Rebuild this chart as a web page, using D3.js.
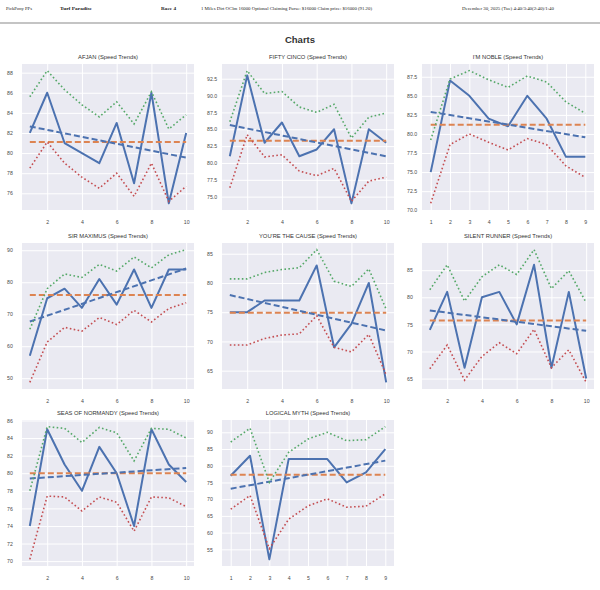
<!DOCTYPE html>
<html>
<head>
<meta charset="utf-8">
<script src="https://d3js.org/d3.v7.min.js"></script>
<style>
body { margin: 0; background: #fff; }
svg { display: block; }
.grid line { stroke: #fff; stroke-width: 1; }
.grid text { fill: #4a4a4a; font-family: "Liberation Sans", Arial, sans-serif; font-size: 5.2px; }
.title { fill: #333; font-family: "Liberation Sans", Arial, sans-serif; font-size: 5.8px; text-anchor: middle; }
.hdr { font-family: "Liberation Serif", "Times New Roman", serif; font-size: 4.8px; fill: #222; }
</style>
</head>
<body>
<svg width="600" height="590"></svg>
<script>
// header strip
const headerText = ["PickPony PPs", "Turf Paradise", "Race 4",
  "1 Miles Dirt OClm 16000 Optional Claiming Purse: $16000 Claim price: $16000 (91.20)",
  "December 30, 2025 (Tue) 4:40/3:40(2:40)/1:40"];
const headerBold = [false, true, true, false, false];

// horses, one chart each
const horses = ["AFJAN", "FIFTY CINCO", "I'M NOBLE", "SIR MAXIMUS", "YOU'RE THE CAUSE",
  "SILENT RUNNER", "SEAS OF NORMANDY", "LOGICAL MYTH"];

// speed figures per race (solid blue)
const speeds = [
  [82, 86, 81, 80, 79, 83, 77, 86, 75, 82],
  [81, 93, 83, 86, 81, 82, 85, 74, 85, 83],
  [75, 87, 85, 82, 81, 85, 82, 77, 77],
  [57, 75, 78, 72, 81, 73, 84, 72, 84, 84],
  [75, 75, 77, 77, 77, 83, 69, 73, 80, 63],
  [74, 81, 67, 80, 81, 75, 86, 67, 81, 65],
  [74, 85, 81, 78, 83, 80, 74, 85, 81, 79],
  [77, 83, 52, 82, 82, 82, 75, 78, 85]
];

// upper band (green dotted)
const upper = [
  [85.6, 88.2, 86.3, 84.8, 83.6, 85.1, 82.9, 86.1, 82.4, 83.8],
  [86.1, 93.7, 90.3, 90.6, 88.3, 87.5, 88.7, 83.7, 86.8, 87.4],
  [79.2, 87.2, 88.3, 87.1, 86.1, 87.6, 86.8, 84.2, 82.7],
  [65.3, 78.0, 82.6, 81.5, 85.6, 83.5, 87.9, 84.5, 88.6, 90.2],
  [80.7, 80.7, 81.8, 82.3, 82.6, 85.7, 80.3, 79.4, 82.4, 75.5],
  [81.4, 86.0, 79.3, 83.8, 86.0, 84.2, 88.8, 81.6, 84.9, 79.0],
  [78.0, 85.3, 85.1, 83.5, 85.2, 84.6, 81.4, 85.1, 85.0, 84.0],
  [87.1, 91.2, 75.0, 84.0, 88.0, 90.0, 87.5, 87.8, 91.7]
];

// lower band (red dotted)
const lower = [
  [78.5, 81.1, 79.0, 77.6, 76.5, 78.0, 75.7, 79.0, 75.2, 76.7],
  [76.3, 84.2, 80.9, 81.2, 78.8, 78.1, 79.2, 74.3, 77.3, 77.9],
  [70.9, 78.6, 80.0, 78.9, 77.9, 79.4, 78.6, 75.8, 74.3],
  [48.7, 61.3, 65.9, 64.7, 69.0, 66.8, 71.2, 67.6, 71.8, 73.6],
  [69.4, 69.4, 70.5, 71.1, 71.3, 74.4, 69.0, 68.2, 71.2, 64.3],
  [66.8, 71.2, 64.7, 69.1, 71.6, 69.6, 74.1, 67.0, 70.3, 64.3],
  [70.2, 77.4, 77.3, 75.7, 77.3, 76.7, 73.4, 77.3, 77.2, 76.2],
  [67.0, 71.1, 55.2, 64.0, 68.0, 70.1, 67.6, 67.9, 71.6]
];

// y tick values per chart
const yTicks = [
  [76, 78, 80, 82, 84, 86, 88],
  [75, 77.5, 80, 82.5, 85, 87.5, 90, 92.5],
  [70, 72.5, 75, 77.5, 80, 82.5, 85, 87.5],
  [50, 60, 70, 80, 90],
  [65, 70, 75, 80, 85],
  [65, 70, 75, 80, 85],
  [70, 72, 74, 76, 78, 80, 82, 84, 86],
  [55, 60, 65, 70, 75, 80, 85, 90]
];

const svg = d3.select("svg");

// header
const hx = [6, 60, 161, 201, 462], hw = [26, 32, 15, 171, 92];
headerText.forEach((t, i) => {
  svg.append("text").attr("class", "hdr")
    .attr("x", hx[i]).attr("y", 10)
    .attr("textLength", hw[i]).attr("lengthAdjust", "spacingAndGlyphs")
    .style("font-weight", headerBold[i] ? "bold" : "normal")
    .text(t);
});
svg.append("line").attr("x1", 0).attr("x2", 600).attr("y1", 23).attr("y2", 23)
  .attr("stroke", "#c4c4c4").attr("stroke-width", 2);
svg.append("text").attr("x", 300).attr("y", 43)
  .attr("text-anchor", "middle")
  .style("font-family", "Liberation Sans, Arial, sans-serif")
  .style("font-weight", "bold").style("font-size", "9.5px").style("fill", "#333")
  .text("Charts");

// panels
const colLeft = [22, 222, 422], rowTop = [64, 243, 420];
const pw = 172, ph = 146;

horses.forEach((name, i) => {
  const ys = speeds[i], n = ys.length;
  const xs = d3.range(1, n + 1);
  const mean = d3.mean(ys);
  const mx = d3.mean(xs);
  const slope = d3.sum(xs, (v, k) => (v - mx) * (ys[k] - mean)) / d3.sum(xs, v => (v - mx) ** 2);
  const trend = v => mean + slope * (v - mx);

  const [lo, hi] = d3.extent(ys.concat(upper[i], lower[i], [trend(1), trend(n)]));
  const pad = (hi - lo) * 0.05;

  const x = d3.scaleLinear().domain([0.55, n + 0.45]).range([0, pw]);
  const y = d3.scaleLinear().domain([lo - pad, hi + pad]).range([ph, 0]);

  const g = svg.append("g")
    .attr("transform", `translate(${colLeft[i % 3]},${rowTop[Math.floor(i / 3)]})`);

  g.append("rect").attr("width", pw).attr("height", ph).attr("fill", "#eaeaf2");

  const step = yTicks[i][1] - yTicks[i][0];
  const fmt = step % 1 ? d3.format(".1f") : d3.format("d");

  const ya = g.append("g").attr("class", "grid")
    .call(d3.axisLeft(y).tickValues(yTicks[i]).tickSize(-pw).tickFormat(fmt));
  ya.select(".domain").remove();
  ya.selectAll("text").attr("x", -15).attr("text-anchor", "start").style("fill", "#4a4a4a");

  const xt = n === 10 ? [2, 4, 6, 8, 10] : xs;
  const xa = g.append("g").attr("class", "grid")
    .attr("transform", `translate(0,${ph})`)
    .call(d3.axisBottom(x).tickValues(xt).tickSize(-ph).tickPadding(10));
  xa.select(".domain").remove();
  xa.selectAll("text").style("fill", "#4a4a4a");

  g.append("text").attr("class", "title")
    .attr("x", pw / 2).attr("y", -5.5)
    .text(name + " (Speed Trends)");

  const line = d3.line().x((d, k) => x(k + 1)).y(d => y(d));

  g.append("path").datum(ys).attr("d", line)
    .attr("fill", "none").attr("stroke", "#4c72b0").attr("stroke-width", 2)
    .attr("stroke-linejoin", "round");

  g.append("line")
    .attr("x1", x(1)).attr("x2", x(n)).attr("y1", y(mean)).attr("y2", y(mean))
    .attr("stroke", "#dd8452").attr("stroke-width", 2).attr("stroke-dasharray", "6,3");

  g.append("line")
    .attr("x1", x(1)).attr("x2", x(n)).attr("y1", y(trend(1))).attr("y2", y(trend(n)))
    .attr("stroke", "#4c72b0").attr("stroke-width", 2).attr("stroke-dasharray", "6,3");

  g.append("path").datum(upper[i]).attr("d", line)
    .attr("fill", "none").attr("stroke", "#55a868").attr("stroke-width", 1.6)
    .attr("stroke-dasharray", "1.6,2.4");

  g.append("path").datum(lower[i]).attr("d", line)
    .attr("fill", "none").attr("stroke", "#c44e52").attr("stroke-width", 1.6)
    .attr("stroke-dasharray", "1.6,2.4");
});
</script>
</body>
</html>
